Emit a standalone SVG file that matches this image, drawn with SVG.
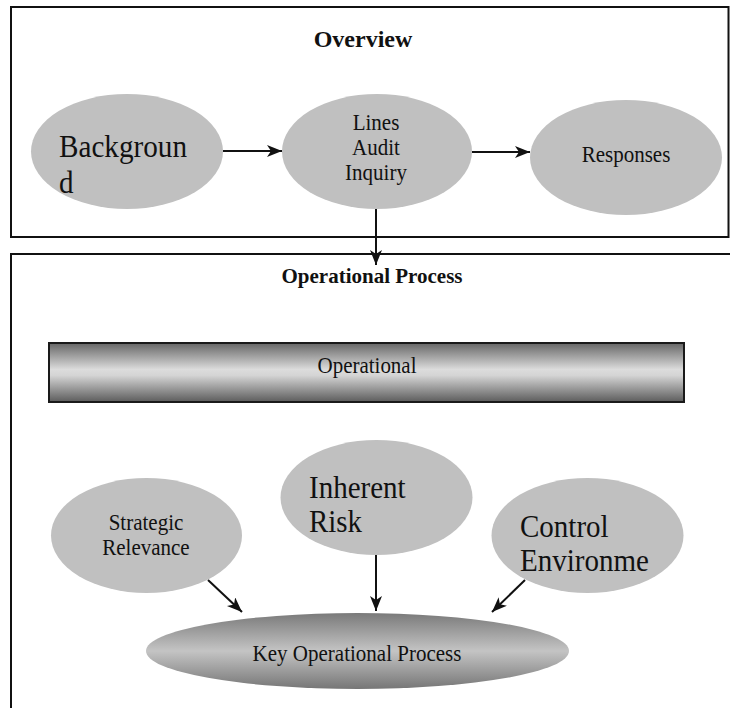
<svg xmlns="http://www.w3.org/2000/svg" width="730" height="708" viewBox="0 0 730 708">
  <style>
    .frame { fill: none; stroke: #111; stroke-width: 2; }
    .node { fill: #c0c0c0; stroke: none; }
    .lbl { font-family: "Liberation Serif", "Times New Roman", serif; fill: #111; text-anchor: middle; font-size: 23px; }
    .big { font-family: "Liberation Serif", "Times New Roman", serif; fill: #111; font-size: 31px; }
    .title { font-family: "Liberation Serif", "Times New Roman", serif; font-weight: bold; fill: #111; text-anchor: middle; }
    .edge { stroke: #111; stroke-width: 2; fill: none; marker-end: url(#head); }
  </style>
  <defs>
    <marker id="head" markerUnits="userSpaceOnUse" markerWidth="16" markerHeight="14" refX="15" refY="6" orient="auto">
      <path d="M0,0 L15,6 L0,12 L4,6 Z" fill="#111"/>
    </marker>
    <linearGradient id="barFill" x1="0" y1="0" x2="0" y2="1">
      <stop offset="0" stop-color="#666"/>
      <stop offset="0.45" stop-color="#dcdcdc"/>
      <stop offset="0.55" stop-color="#d4d4d4"/>
      <stop offset="1" stop-color="#5c5c5c"/>
    </linearGradient>
    <linearGradient id="keyFill" x1="0" y1="0" x2="0" y2="1">
      <stop offset="0" stop-color="#7a7a7a"/>
      <stop offset="0.5" stop-color="#c4c4c4"/>
      <stop offset="1" stop-color="#767676"/>
    </linearGradient>
  </defs>

  <!-- frames -->
  <g id="overview-frame">
    <rect class="frame" x="11" y="7" width="717.5" height="230"/>
    <text class="title" x="363" y="47" font-size="24">Overview</text>
  </g>
  <g id="process-frame">
    <path class="frame" d="M11,710 L11,254 L732,254"/>
    <text class="title" x="372" y="283" font-size="21">Operational Process</text>
  </g>

  <!-- overview nodes -->
  <g id="background">
    <ellipse class="node" cx="127" cy="151.5" rx="96" ry="57.5"/>
    <text class="big" x="59" y="157" textLength="128" lengthAdjust="spacingAndGlyphs">Backgroun</text>
    <text class="big" x="59" y="193" textLength="14.5" lengthAdjust="spacingAndGlyphs">d</text>
  </g>
  <g id="lines-audit">
    <ellipse class="node" cx="377" cy="151.5" rx="95" ry="57.5"/>
    <text class="lbl" x="376" y="130" textLength="46.7" lengthAdjust="spacingAndGlyphs">Lines</text>
    <text class="lbl" x="376" y="155" textLength="47.8" lengthAdjust="spacingAndGlyphs">Audit</text>
    <text class="lbl" x="376" y="180" textLength="61.8" lengthAdjust="spacingAndGlyphs">Inquiry</text>
  </g>
  <g id="responses">
    <ellipse class="node" cx="626" cy="157.5" rx="96" ry="57.5"/>
    <text class="lbl" x="626" y="162" textLength="88.7" lengthAdjust="spacingAndGlyphs">Responses</text>
  </g>

  <!-- operational process nodes -->
  <g id="operational">
    <rect x="49" y="343" width="635" height="59" fill="url(#barFill)" stroke="#1a1a1a" stroke-width="2"/>
    <text class="lbl" x="367" y="373" textLength="99" lengthAdjust="spacingAndGlyphs">Operational</text>
  </g>
  <g id="strategic">
    <ellipse class="node" cx="146.5" cy="535.5" rx="95.5" ry="57.5"/>
    <text class="lbl" x="146" y="530" textLength="74.7" lengthAdjust="spacingAndGlyphs">Strategic</text>
    <text class="lbl" x="146" y="555" textLength="87.4" lengthAdjust="spacingAndGlyphs">Relevance</text>
  </g>
  <g id="inherent">
    <ellipse class="node" cx="376.5" cy="497.5" rx="96" ry="57.5"/>
    <text class="big" x="309" y="498" textLength="96.6" lengthAdjust="spacingAndGlyphs">Inherent</text>
    <text class="big" x="309" y="532" textLength="53" lengthAdjust="spacingAndGlyphs">Risk</text>
  </g>
  <g id="control">
    <ellipse class="node" cx="587.5" cy="535.5" rx="96" ry="57.5"/>
    <text class="big" x="520" y="537" textLength="88.6" lengthAdjust="spacingAndGlyphs">Control</text>
    <text class="big" x="520" y="571" textLength="129" lengthAdjust="spacingAndGlyphs">Environme</text>
  </g>
  <g id="key-process">
    <ellipse cx="357.5" cy="651" rx="211.5" ry="38" fill="url(#keyFill)"/>
    <text class="lbl" x="357" y="661" textLength="208.8" lengthAdjust="spacingAndGlyphs">Key Operational Process</text>
  </g>

  <!-- connectors -->
  <g id="connectors">
    <line class="edge" x1="223" y1="151" x2="282" y2="151"/>
    <line class="edge" x1="472" y1="152" x2="530" y2="152"/>
    <line class="edge" x1="376" y1="209" x2="376" y2="265"/>
    <line class="edge" x1="208" y1="580" x2="242" y2="612"/>
    <line class="edge" x1="376" y1="555" x2="376" y2="611"/>
    <line class="edge" x1="525" y1="580" x2="492" y2="612"/>
  </g>
</svg>
